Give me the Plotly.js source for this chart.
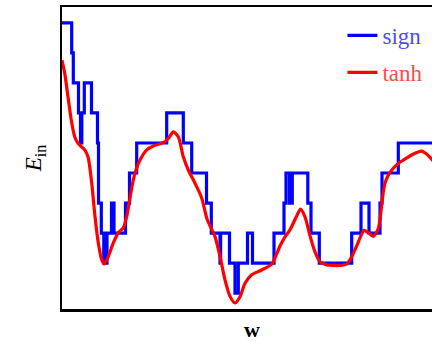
<!DOCTYPE html>
<html>
<head>
<meta charset="utf-8">
<script src="https://cdn.plot.ly/plotly-3.0.1.min.js"></script>
<style>
html, body { margin: 0; padding: 0; overflow: hidden; background: #fff; }
#chart { width: 452px; height: 342px; }
</style>
</head>
<body>
<div id="chart"></div>
<script>
// sign activation: step function (start of each step, in-sample error level)
var signW = [0, 9.7, 11.3, 16.5, 18.5, 19.8, 22.3, 29.5, 35.5, 36.5, 39.3, 41.8, 45, 49.5, 52,
  63.5, 67.5, 74.7, 104.7, 121.3, 129.7, 144.5, 149.3, 158, 158.6, 167.5, 173, 176.3, 185.5, 190.5,
  212, 222, 224, 227.5, 230.3, 245.8, 249, 257.3, 289.7, 299, 307, 318, 320, 336.3, 383];
var signE = [9, 8, 7, 6, 5, 6, 7, 6, 5, 3, 2, 1, 2, 3, 2,
  3, 4, 5, 6, 5, 4, 3, 2, 1, 2, 1, 0, 1, 2, 1,
  2, 3, 4, 3, 4, 3, 2, 1, 2, 3, 2, 3, 4, 5, 5];

// tanh activation: smooth curve
var tanhW = [0, 2.7, 6, 9.3, 12.7, 16, 19.3, 22.7, 26, 29.7, 33, 36.3, 39.7, 42.3, 46.3, 51.3, 56.3,
  61.3, 64.7, 68, 71.3, 74, 78, 84.7, 91.3, 101.3, 106.3, 111.3, 116.3, 121.3, 126.3, 133, 139.7,
  144.7, 148, 153, 158, 163, 168, 173, 178, 183, 189.7, 199.7, 209.7, 218, 223, 228, 234.7, 238.5,
  243, 248, 253, 258, 264.7, 271.3, 278, 284.7, 289.7, 294.7, 298, 302, 306.3, 311.3, 316.3, 319.7,
  321.3, 323, 326.3, 331.3, 336.3, 341.3, 349.7, 354.7, 359.7, 364.7, 368, 372];
var tanhE = [7.76, 7.32, 6.54, 5.76, 5.21, 4.99, 4.88, 4.77, 4.54, 3.67, 2.55, 1.67, 1.11, 0.97, 1.22, 1.67, 2.01,
  2.17, 2.55, 3.17, 3.77, 4.10, 4.43, 4.77, 4.90, 5.01, 5.15, 5.37, 5.21, 4.54, 4.10, 3.66, 3.17,
  2.50, 2.24, 1.88, 1.22, 0.44, -0.11, -0.33, -0.12, 0.33, 0.61, 0.77, 0.97, 1.57, 1.87, 2.11, 2.57, 2.80,
  2.54, 1.91, 1.37, 1.04, 0.94, 0.92, 0.92, 0.97, 1.21, 1.57, 1.84, 2.09, 2.01, 1.89, 2.15, 2.94,
  3.37, 3.66, 3.93, 4.16, 4.32, 4.43, 4.60, 4.68, 4.73, 4.63, 4.52, 4.37];

var seriesNames = ['sign', 'tanh'];
var seriesColors = ['#0000ff', '#ff0000'];
var legendTextColors = ['#4a4aff', '#ff4a4a'];

var serif = "Liberation Serif";

var traces = [
  { x: signW, y: signE, type: 'scatter', mode: 'lines', legendgroup: 'a',
    name: '<span style="color:' + legendTextColors[0] + '">' + seriesNames[0] + '</span>',
    line: { color: seriesColors[0], width: 3.2, shape: 'hv' }, hoverinfo: 'skip' },
  { x: tanhW, y: tanhE, type: 'scatter', mode: 'lines', legendgroup: 'b',
    name: '<span style="color:' + legendTextColors[1] + '">' + seriesNames[1] + '</span>',
    line: { color: seriesColors[1], width: 3.2, shape: 'spline', smoothing: 0.7 }, hoverinfo: 'skip' }
];

var layout = {
  width: 452, height: 342,
  margin: { l: 62, r: 10, t: 7, b: 33 },
  paper_bgcolor: '#fff', plot_bgcolor: '#fff',
  showlegend: true,
  legend: { x: 0.738, y: 0.977, xanchor: 'left', yanchor: 'top', bgcolor: 'rgba(0,0,0,0)',
    borderwidth: 0, traceorder: 'grouped', tracegroupgap: 4, itemwidth: 30,
    font: { family: serif, size: 23, color: '#000' } },
  font: { family: serif },
  xaxis: { range: [0, 380], showgrid: false, zeroline: false, showticklabels: false, ticks: '',
    showline: true, linecolor: '#000', linewidth: 2.5, mirror: true,
    title: { text: '<b>w</b>', font: { family: serif, size: 22, color: '#000' }, standoff: 12 } },
  yaxis: { range: [-0.53, 9.53], showgrid: false, zeroline: false, showticklabels: false, ticks: '',
    showline: true, linecolor: '#000', linewidth: 2.5, mirror: true,
    title: { text: '<i>E</i><sub>in</sub>', font: { family: serif, size: 23, color: '#000' }, standoff: 12 } }
};

Plotly.newPlot('chart', traces, layout, { staticPlot: true, displayModeBar: false });
</script>
</body>
</html>
